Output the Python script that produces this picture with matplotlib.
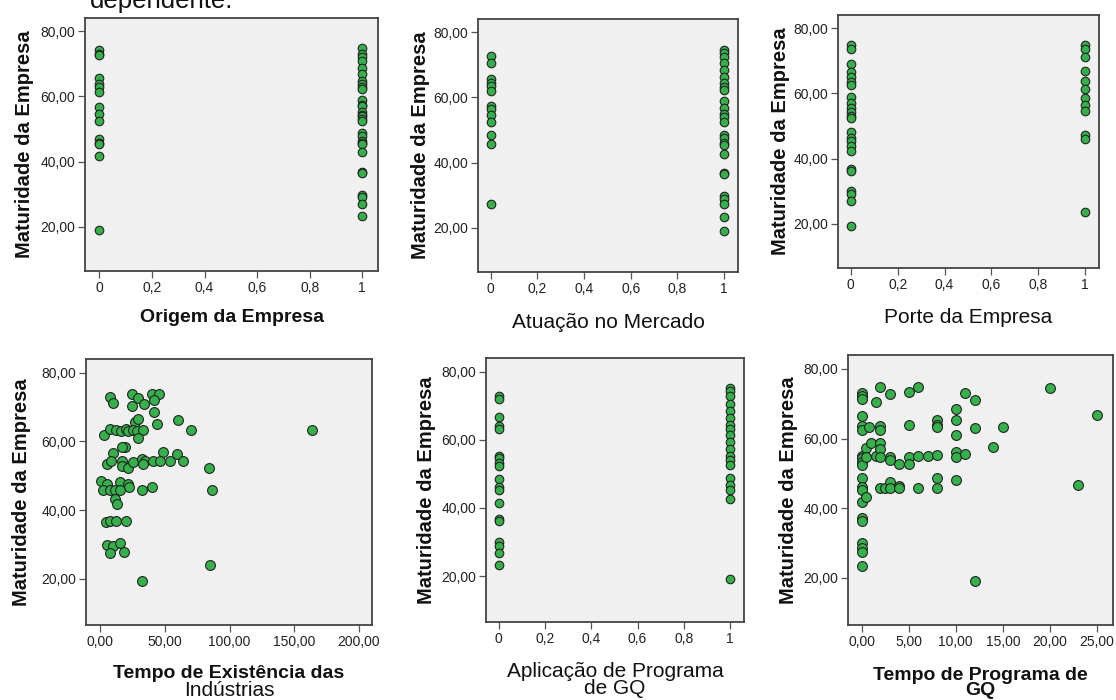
import matplotlib
matplotlib.use("Agg")
import matplotlib.pyplot as plt

plt.rcParams['font.family'] = ['Liberation Sans', 'DejaVu Sans']

W, H = 1116, 700

# --- dados ---
origem_0 = [74.3, 73.0, 72.7, 65.7, 63.7, 62.9, 61.3, 56.7, 54.7, 52.6, 46.8, 45.8, 45.5, 41.8, 19.1]
origem_1 = [74.7, 73.0, 72.0, 70.7, 68.6, 66.7, 64.7, 63.7, 63.0, 62.3, 58.8, 57.5, 56.9, 55.1,
            54.3, 54.0, 53.2, 52.6, 48.7, 47.8, 46.2, 45.8, 45.3, 43.0, 36.9, 36.4, 29.8, 29.2,
            27.1, 23.5]

atuacao_0 = [72.8, 70.5, 65.6, 64.5, 63.5, 61.8, 57.5, 56.5, 54.5, 52.6, 48.5, 45.7, 27.3]
atuacao_1 = [74.5, 73.5, 72.5, 70.5, 68.5, 66.3, 64.5, 63.2, 62.2, 58.9, 56.8, 54.8, 54.0, 52.5,
             48.6, 47.6, 46.0, 45.3, 42.6, 36.9, 36.4, 29.8, 28.8, 27.2, 23.5, 19.1]

porte_0 = [74.7, 73.7, 69.1, 66.5, 65.0, 63.6, 62.6, 58.8, 57.1, 55.5, 54.4, 53.2, 52.4, 48.1,
           46.3, 45.5, 44.0, 42.2, 36.9, 36.3, 30.0, 29.2, 27.1, 19.5]
porte_1 = [74.7, 73.5, 71.1, 66.7, 63.9, 61.4, 58.5, 56.5, 54.7, 47.2, 46.1, 23.8]

aplicacao_0 = [72.7, 71.9, 66.7, 63.9, 63.2, 55.2, 54.5, 53.2, 52.2, 48.5, 46.0, 45.2, 41.3,
               36.7, 36.1, 29.9, 28.7, 26.9, 23.3]
aplicacao_1 = [75.2, 74.2, 72.7, 70.5, 68.4, 66.5, 64.2, 63.2, 61.5, 59.2, 57.2, 55.2, 54.2,
               52.5, 48.7, 46.7, 45.2, 42.7, 19.2]

existencia_x = [7.7, 10.3, 24.5, 29.6, 34.0, 24.5, 40.0, 45.9, 41.8, 42.0, 44.3, 27.1, 29.6,
                60.1, 70.1, 163.7, 3.1, 7.7, 12.4, 16.0, 20.1, 21.9, 25.8, 28.4, 33.0, 29.6,
                19.3, 16.8, 10.3, 49.0, 59.3, 5.2, 8.2, 16.8, 16.8, 21.9, 25.8, 32.2, 34.8,
                33.5, 41.2, 46.4, 54.1, 63.9, 84.5, 0.5, 5.2, 15.5, 21.9, 22.7, 2.6, 7.7,
                11.6, 15.5, 32.2, 40.0, 86.3, 11.6, 12.9, 4.6, 7.7, 12.4, 20.1, 5.7, 10.3,
                15.5, 7.7, 18.6, 85.1, 32.2]
existencia_y = [72.8, 71.3, 73.9, 72.6, 70.8, 70.4, 73.7, 73.9, 72.0, 68.6, 65.2, 65.5, 66.5,
                66.2, 63.3, 63.3, 62.0, 63.6, 63.3, 63.1, 63.6, 62.9, 63.3, 63.1, 63.3, 61.0,
                58.5, 58.3, 56.6, 57.0, 56.2, 53.3, 54.4, 54.4, 52.7, 52.3, 54.0, 54.9, 54.4,
                53.5, 54.3, 54.4, 54.4, 54.4, 52.3, 48.4, 47.5, 48.2, 47.7, 46.7, 45.8, 45.8,
                45.8, 45.8, 45.8, 46.7, 45.8, 43.1, 41.7, 36.6, 36.9, 36.9, 36.9, 29.9, 29.4,
                30.3, 27.4, 27.7, 23.9, 19.2]

programa_x = [0, 0, 0, 0, 0, 0, 0, 0, 0, 0, 0, 0, 0, 0, 0, 0, 0, 0, 0, 0,
              0.5, 0.5, 0.5, 1.5, 1, 0.8, 1.5, 2, 2, 2, 2, 2, 2, 2, 2.5, 3, 3, 3, 3, 3,
              4, 4, 4, 5, 5, 5, 5, 6, 6, 6, 7, 8, 8, 8, 8, 8, 8, 10, 10, 10, 10, 10, 10,
              11, 11, 12, 12, 12, 14, 15, 20, 23, 25]
programa_y = [73.2, 72.2, 71.3, 66.4, 63.5, 62.5, 55.0, 54.3, 53.3, 52.3, 48.7, 46.0, 45.2,
              41.7, 37.3, 36.3, 30.0, 28.7, 27.4, 23.5,
              43.1, 57.2, 54.8, 70.5, 58.8, 63.3, 55.0, 74.7, 63.7, 62.5, 58.8, 56.9, 54.8,
              45.7, 45.7, 72.9, 54.8, 53.8, 47.5, 45.7, 52.8, 46.5, 45.7, 73.4, 64.0, 54.8,
              52.6, 74.7, 55.0, 45.7, 55.0, 65.4, 64.0, 63.3, 55.2, 48.7, 45.7, 68.5, 65.4,
              61.1, 56.2, 54.8, 48.2, 73.0, 55.5, 71.1, 63.0, 19.0, 57.7, 63.3, 74.4, 46.8,
              66.9]

bin_ticks = [0, 0.2, 0.4, 0.6, 0.8, 1]
bin_labels = ['0', '0,2', '0,4', '0,6', '0,8', '1']
y_ticks = [20, 40, 60, 80]
y_labels = ['20,00', '40,00', '60,00', '80,00']

verde = '#35b04a'
borda = '#222222'

fig = plt.figure(figsize=(W / 100, H / 100), dpi=100)


def make_ax(left, right, top, bottom):
    return fig.add_axes([left / W, 1 - bottom / H, (right - left) / W, (bottom - top) / H])


def style(ax, xlabel, xbold, ylab_off, xlab_off, top, bottom):
    ax.set_facecolor('#f0f0f0')
    for s in ax.spines.values():
        s.set_color('#444444')
        s.set_linewidth(1.3)
    ax.tick_params(axis='both', which='both', direction='out', length=5, width=0.9,
                   color='#555555', labelsize=10, labelcolor='#222222', pad=2,
                   top=False, right=False)
    ax.set_ylim(6.5, 84)
    ax.set_yticks(y_ticks)
    ax.set_yticklabels(y_labels)
    hpx = bottom - top
    ax.set_ylabel('Maturidade da Empresa', fontsize=14.5, fontweight='bold', color='#111111',
                  va='center')
    ax.yaxis.set_label_coords(-ylab_off, 0.5)
    ax.set_xlabel(xlabel, fontsize=14 if xbold else 15,
                  fontweight='bold' if xbold else 'normal', color='#111111',
                  va='center', linespacing=0.85)
    ax.xaxis.set_label_coords(0.5, -xlab_off / hpx)


def scatter_bin(ax, g0, g1):
    ax.scatter([0] * len(g0), g0, s=38, c=verde, edgecolors=borda, linewidths=0.8, zorder=3)
    ax.scatter([1] * len(g1), g1, s=38, c=verde, edgecolors=borda, linewidths=0.8, zorder=3)
    ax.set_xlim(-0.055, 1.06)
    ax.set_xticks(bin_ticks)
    ax.set_xticklabels(bin_labels)


# painel 1
ax1 = make_ax(85, 378, 18, 271)
scatter_bin(ax1, origem_0, origem_1)
style(ax1, 'Origem da Empresa', True, 60 / 293, 47, 18, 271)

# painel 2
ax2 = make_ax(478, 738, 19, 272)
scatter_bin(ax2, atuacao_0, atuacao_1)
style(ax2, 'Atuação no Mercado', False, 58 / 260, 50, 19, 272)

# painel 3
ax3 = make_ax(838, 1099, 15, 268)
scatter_bin(ax3, porte_0, porte_1)
style(ax3, 'Porte da Empresa', False, 58 / 261, 50, 15, 268)

# painel 4
ax4 = make_ax(86, 372, 359, 625)
ax4.scatter(existencia_x, existencia_y, s=50, c=verde, edgecolors=borda, linewidths=0.8, zorder=3)
ax4.set_xlim(-10.8, 210)
ax4.set_xticks([0, 50, 100, 150, 200])
ax4.set_xticklabels(['0,00', '50,00', '100,00', '150,00', '200,00'])
style(ax4, 'Tempo de Existência das', True, 64 / 286, 48, 359, 625)
ax4.text(0.5, -65 / 266, 'Indústrias', transform=ax4.transAxes, fontsize=15,
         color='#111111', ha='center', va='center')

# painel 5
ax5 = make_ax(486, 744, 358, 622)
scatter_bin(ax5, aplicacao_0, aplicacao_1)
style(ax5, 'Aplicação de Programa\nde GQ', False, 59 / 258, 58, 358, 622)

# painel 6
ax6 = make_ax(848, 1113, 355, 625)
ax6.scatter(programa_x, programa_y, s=50, c=verde, edgecolors=borda, linewidths=0.8, zorder=3)
ax6.set_xlim(-1.45, 26.7)
ax6.set_xticks([0, 5, 10, 15, 20, 25])
ax6.set_xticklabels(['0,00', '5,00', '10,00', '15,00', '20,00', '25,00'])
style(ax6, 'Tempo de Programa de\nGQ', True, 60 / 265, 58, 355, 625)

# texto do documento, cortado no topo como no original
fig.text(90 / W, 1 - 8 / H, 'dependente.', fontsize=18.5, color='#111111',
         ha='left', va='baseline')

fig.savefig('out.png', dpi=100, facecolor='white')
